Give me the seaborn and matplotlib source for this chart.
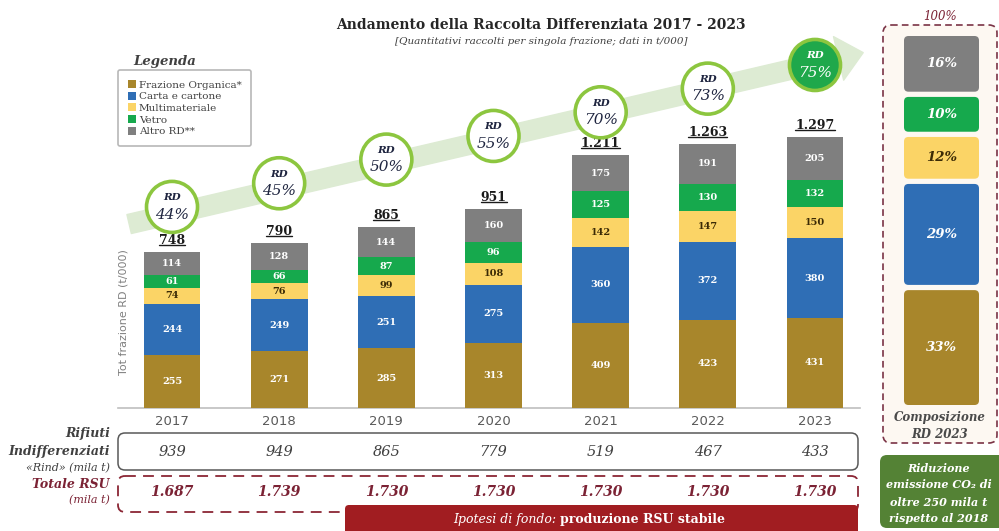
import matplotlib
matplotlib.use("Agg")
import matplotlib.pyplot as plt
import matplotlib.transforms as mtransforms
from matplotlib.patches import FancyBboxPatch
import numpy as np
import seaborn as sns

# data (t/000)
years = ["2017", "2018", "2019", "2020", "2021", "2022", "2023"]
fractions = ["Frazione Organica*", "Carta e cartone", "Multimateriale", "Vetro", "Altro RD**"]
organica = [255, 271, 285, 313, 409, 423, 431]
carta = [244, 249, 251, 275, 360, 372, 380]
multimateriale = [74, 76, 99, 108, 142, 147, 150]
vetro = [61, 66, 87, 96, 125, 130, 132]
altro = [114, 128, 144, 160, 175, 191, 205]
totale_rd = [748, 790, 865, 951, 1211, 1263, 1297]
rd_pct = [44, 45, 50, 55, 70, 73, 75]
rind = [939, 949, 865, 779, 519, 467, 433]
totale_rsu = [1687, 1739, 1730, 1730, 1730, 1730, 1730]
comp_2023 = [33, 29, 12, 10, 16]  # same order as fractions

colors = ["#A8862B", "#2F6EB5", "#FBD466", "#16A94D", "#7F7F7F"]
label_colors = ["white", "white", "#3B2A05", "white", "white"]
DARK_RED = "#7B2234"
SERIF = "DejaVu Serif"
SANS = "DejaVu Sans"

W, H = 999, 531


def fbox(x0, y0, x1, y1):
    # pixel box (top-left origin) -> figure fraction rect
    return [x0 / W, 1 - y1 / H, (x1 - x0) / W, (y1 - y0) / H]


def it_fmt(v):
    return f"{v:,}".replace(",", ".")


sns.set_theme(style="white")
plt.rcParams["font.family"] = [SERIF]
plt.rcParams["mathtext.fontset"] = "dejavuserif"

fig = plt.figure(figsize=(W / 100, H / 100), dpi=100)

# background canvas in pixel coordinates for frames and free text
deco = fig.add_axes([0, 0, 1, 1], zorder=0)
deco.set_xlim(0, W)
deco.set_ylim(H, 0)
deco.axis("off")

ax = fig.add_axes(fbox(118, 10, 860, 408), zorder=2)
ax.patch.set_visible(False)

# stacked bars
layers = [organica, carta, multimateriale, vetro, altro]
bottom = np.zeros(len(years))
for name, vals, col, tcol in zip(fractions, layers, colors, label_colors):
    sns.barplot(x=years, y=vals, bottom=bottom, color=col, width=0.53,
                errorbar=None, saturation=1, label=name, ax=ax, zorder=3,
                linewidth=0, edgecolor="none")
    ax.bar_label(ax.containers[-1], labels=[str(v) for v in vals],
                 label_type="center", color=tcol, fontsize=7,
                 fontweight="bold", family=SERIF, zorder=5)
    bottom += np.array(vals)

ax.set_xlim(-0.504, 6.42)
ax.set_ylim(0, 1904)
ax.set_yticks([])
ax.set_xlabel("")
ax.set_ylabel("")
for s in ["top", "right", "left"]:
    ax.spines[s].set_visible(False)
ax.spines["bottom"].set_color("#BFBFBF")
ax.spines["bottom"].set_linewidth(1.2)
ax.tick_params(axis="x", length=0, pad=5, labelsize=9.5, labelcolor="#595959")
for lab in ax.get_xticklabels():
    lab.set_family(SANS)
ax.text(0.008, 0.24, "Tot frazione RD (t/000)", transform=ax.transAxes,
        rotation=90, ha="center", va="center", fontsize=8, color="#808080",
        family=SANS)

# totals above bars (underlined)
above = mtransforms.offset_copy(ax.transData, fig=fig, y=5, units="dots")
tot_texts = []
for i, t in enumerate(totale_rd):
    tot_texts.append(ax.text(i, bottom[i], it_fmt(t), transform=above,
                             ha="center", va="bottom", fontsize=9,
                             fontweight="bold", color="#1A1A1A"))

# trend arrow and RD circles
ax.annotate("", xy=(6.45, 1700), xytext=(-0.4, 880),
            arrowprops=dict(arrowstyle="simple,head_length=1.3,head_width=2.3,tail_width=1.0",
                            color="#DDEBD3", shrinkA=0, shrinkB=0, mutation_scale=14),
            annotation_clip=False, zorder=1)
pos = np.arange(len(years))
rd_y = np.linspace(962, 1641, len(years))  # circles sit along the trend arrow
state = ["ring"] * (len(years) - 1) + ["fill"]
sns.scatterplot(x=pos, y=rd_y, hue=state, palette={"ring": "white", "fill": "#1FA84B"},
                s=1350, edgecolor="#8CC63F", linewidth=2.6, legend=False,
                ax=ax, zorder=4, clip_on=False)
for i, (p, y) in enumerate(zip(rd_pct, rd_y)):
    tc = "white" if state[i] == "fill" else "#1F2540"
    ax.annotate("RD", (i, y), xytext=(0, 6.5), textcoords="offset points",
                ha="center", va="center", fontsize=7.5, fontweight="bold",
                style="italic", color=tc, zorder=6, annotation_clip=False)
    ax.annotate(f"{p}%", (i, y), xytext=(0, -5.5), textcoords="offset points",
                ha="center", va="center", fontsize=11, style="italic",
                color=tc, zorder=6, annotation_clip=False)

# legend
leg = ax.legend(loc="upper left", bbox_to_anchor=(118 / W, 1 - 70 / H),
                bbox_transform=fig.transFigure, frameon=True, fancybox=True,
                prop={"family": SERIF, "size": 7.5}, handlelength=0.8,
                handleheight=0.8, handletextpad=0.25, labelspacing=0.2,
                borderpad=0.95, borderaxespad=0)
leg.get_frame().set_edgecolor("#A6A6A6")
leg.get_frame().set_linewidth(1.2)
for t in leg.get_texts():
    t.set_color("#404040")
deco.text(165, 61, "Legenda", ha="center", va="center", fontsize=9.5,
          fontweight="bold", style="italic", color="#404040")

# titles
deco.text(541, 25, "Andamento della Raccolta Differenziata 2017 - 2023",
          ha="center", va="center", fontsize=10, fontweight="bold", color="#262626")
deco.text(541, 42, "[Quantitativi raccolti per singola frazione; dati in t/000]",
          ha="center", va="center", fontsize=7.5, style="italic", color="#404040")

# table rows below the chart
row = mtransforms.blended_transform_factory(ax.transData, deco.transData)
deco.add_patch(FancyBboxPatch((118, 433), 740, 37, boxstyle="round,pad=0,rounding_size=7",
                              fc="none", ec="#595959", lw=1.1))
deco.add_patch(FancyBboxPatch((118, 476), 740, 36, boxstyle="round,pad=0,rounding_size=7",
                              fc="none", ec="#8B2635", lw=1.3, ls=(0, (6, 4))))
for i, (r, t) in enumerate(zip(rind, totale_rsu)):
    ax.text(i, 452, str(r), transform=row, ha="center", va="center",
            fontsize=10.5, style="italic", color="#404040", clip_on=False)
    ax.text(i, 492, it_fmt(t), transform=row, ha="center", va="center",
            fontsize=10, style="italic", fontweight="bold", color=DARK_RED,
            clip_on=False)
deco.text(110, 433, "Rifiuti", ha="right", va="center", fontsize=9,
          fontweight="bold", style="italic", color="#404040")
deco.text(110, 451, "Indifferenziati", ha="right", va="center", fontsize=9,
          fontweight="bold", style="italic", color="#404040")
deco.text(110, 468, "«Rind» (mila t)", ha="right", va="center", fontsize=8,
          style="italic", color="#404040")
deco.text(110, 484, "Totale RSU", ha="right", va="center", fontsize=9,
          fontweight="bold", style="italic", color=DARK_RED)
deco.text(110, 500, "(mila t)", ha="right", va="center", fontsize=8,
          style="italic", color=DARK_RED)

deco.add_patch(FancyBboxPatch((345, 505), 513, 30, boxstyle="round,pad=0,rounding_size=4",
                              fc="#A11D21", ec="none", zorder=3))
deco.text(560, 519, "Ipotesi di fondo: ", ha="right", va="center", fontsize=9,
          style="italic", color="white", zorder=4)
deco.text(560, 519, "produzione RSU stabile", ha="left", va="center", fontsize=9,
          fontweight="bold", color="white", zorder=4)

# composition 2023 panel
deco.add_patch(FancyBboxPatch((883, 25), 114, 418, boxstyle="round,pad=0,rounding_size=8",
                              fc="#FDF8F2", ec="#7A3346", lw=1.2, ls=(0, (4, 2.5))))
deco.text(940, 16, "100%", ha="center", va="center", fontsize=8.5, style="italic",
          color=DARK_RED)
deco.text(940, 418, "Composizione", ha="center", va="center", fontsize=8.5,
          fontweight="bold", style="italic", color="#4A4A4A")
deco.text(940, 435, "RD 2023", ha="center", va="center", fontsize=8.5,
          fontweight="bold", style="italic", color="#4A4A4A")

axc = fig.add_axes(fbox(904, 36, 979, 405), zorder=2)
gap = 1.5
cbottoms = np.cumsum([0] + comp_2023[:-1]) + gap * np.arange(len(comp_2023))
for v, b, col in zip(comp_2023, cbottoms, colors):
    sns.barplot(x=["RD 2023"], y=[v], bottom=b, color=col, width=1,
                errorbar=None, saturation=1, ax=axc)
ytop = 100 + gap * (len(comp_2023) - 1)
axc.set_xlim(-0.5, 0.5)
axc.set_ylim(0, ytop)
axc.axis("off")
aspect = (ytop / 369) / (1 / 75)
for p in list(axc.patches):
    x, y, w, h = p.get_x(), p.get_y(), p.get_width(), p.get_height()
    fc = p.get_facecolor()
    p.remove()
    axc.add_patch(FancyBboxPatch((x, y), w, h, boxstyle="round,pad=0,rounding_size=0.06",
                                 mutation_aspect=aspect, fc=fc, ec="none"))
for v, b, tcol in zip(comp_2023, cbottoms, label_colors):
    axc.text(0, b + v / 2, f"{v}%", ha="center", va="center", fontsize=9.5,
             fontweight="bold", style="italic", color=tcol)

deco.add_patch(FancyBboxPatch((880, 455), 130, 73, boxstyle="round,pad=0,rounding_size=7",
                              fc="#548235", ec="none"))
for k, line in enumerate(["Riduzione", "emissione CO₂ di", "oltre 250 mila t", "rispetto al 2018"]):
    deco.text(939, 468 + 17 * k, line, ha="center", va="center", fontsize=8,
              fontweight="bold", style="italic", color="white")

# underline the totals
fig.canvas.draw()
renderer = fig.canvas.get_renderer()
inv = ax.transData.inverted()
for t in tot_texts:
    bb = t.get_window_extent(renderer)
    (x0, y0), (x1, _) = inv.transform([[bb.x0, bb.y0 + 2], [bb.x1, bb.y0 + 2]])
    ax.plot([x0, x1], [y0, y0], color="#1A1A1A", lw=1, zorder=5)

fig.savefig("out.png", dpi=100)
